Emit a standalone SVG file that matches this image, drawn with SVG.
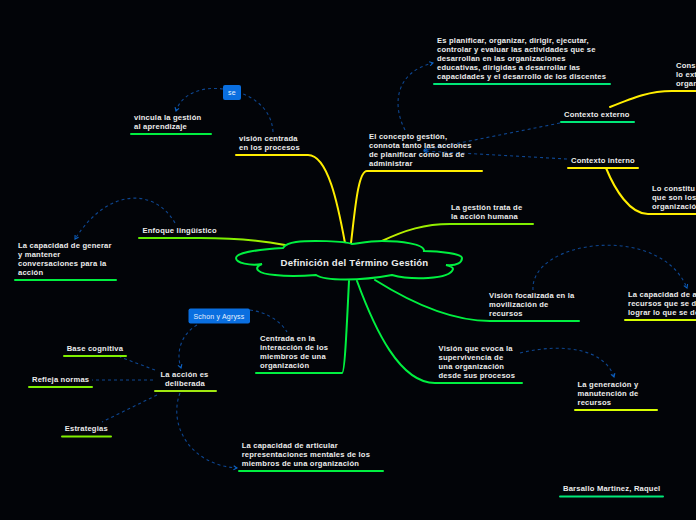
<svg xmlns="http://www.w3.org/2000/svg" width="696" height="520" viewBox="0 0 696 520">
<style>
text{font-family:"Liberation Sans",Arial,sans-serif;font-weight:700;font-size:7.6px;letter-spacing:.2px;fill:#ececec}
.b{fill:none;stroke-width:2;stroke-linecap:round;stroke-linejoin:round}
.d{fill:none;stroke:#0e4690;stroke-width:1.1;stroke-dasharray:3 3}
.y{stroke:#ffee00}.g{stroke:#00f040}.l{stroke:#80f000}.t{stroke:#00e878}.a{stroke:#d8ff00}
.box{fill:#0a6fe0}
.bt{font-weight:400;fill:#e8f2ff;text-anchor:middle;font-size:7px}
</style>
<defs>
<marker id="ah" viewBox="0 0 8 8" refX="6" refY="4" markerWidth="5" markerHeight="5" orient="auto"><path d="M1 1L6 4L1 7" fill="none" stroke="#0c62c4" stroke-width="1.6"/></marker>
<linearGradient id="gr1" gradientUnits="userSpaceOnUse" x1="200" y1="238" x2="290" y2="245"><stop offset="0" stop-color="#60f000"/><stop offset="1" stop-color="#c0f000"/></linearGradient>
<linearGradient id="gr2" gradientUnits="userSpaceOnUse" x1="382" y1="241" x2="450" y2="224"><stop offset="0" stop-color="#d0ee00"/><stop offset="1" stop-color="#80f000"/></linearGradient>
</defs>
<rect width="696" height="520" fill="#020408"/>
<g id="connectors">
<path class="b y" d="M345 243C338 205 328 155 308 155H236"/>
<path class="b y" d="M351 243C355 210 358 171 367 171H482"/>
<path class="b" stroke="url(#gr2)" d="M382 241C405 230 425 224 450 224H533"/>
<path class="b" stroke="url(#gr1)" d="M285 245C260 240 235 238 200 238H139"/>
<path class="b g" d="M349 281C347 320 345 373 342 373H256"/>
<path class="b g" d="M375 280C410 302 450 321 490 321H579"/>
<path class="b g" d="M357 281C375 330 400 383 435 383H522"/>
<path class="b y" d="M610 107C635 97 650 91 672 91H696"/>
<path class="b y" d="M606 168C615 190 630 214 648 214H696"/>
<path class="d" marker-end="url(#ah)" d="M405 130C392 105 395 72 433 63"/>
<path class="d" marker-end="url(#ah)" d="M560 123L424 150"/>
<path class="d" marker-end="url(#ah)" d="M567 159L424 151"/>
<path class="d" d="M273 132C272 112 258 100 243 94"/>
<path class="d" marker-end="url(#ah)" d="M223 89C200 86 181 95 176 111"/>
<path class="d" marker-end="url(#ah)" d="M175 223C155 188 108 187 75 239"/>
<path class="d" d="M250 310C265 312 280 320 287 332"/>
<path class="d" marker-end="url(#ah)" d="M197 325C183 333 175 350 181 368"/>
<path class="d" d="M155 370L120 357"/>
<path class="d" d="M153 380H92"/>
<path class="d" d="M157 395L102 422"/>
<path class="d" marker-end="url(#ah)" d="M180 393C168 425 190 465 237 468"/>
<path class="d" marker-end="url(#ah)" d="M533 290C530 240 660 222 687 288"/>
<path class="d" marker-end="url(#ah)" d="M520 353C565 342 605 350 614 377"/>
</g>
<g id="center"><path d="M352 244C345 241 310 240 296 242C288 243 285 245 283 248C265 249 236 252 236 258C236 263 250 266 262 264C252 268 258 274 275 275C290 277 305 276 316 275C325 281 360 281 392 275C410 280 450 280 453 269C453 267 450 266 446 265C458 266 462 262 462 258C462 254 440 251 424 251C425 244 400 241 382 241C370 241 360 243 352 244Z" fill="#020408" stroke="#00f040" stroke-width="2"/><text x="354.500" y="266" text-anchor="middle" style="font-size:9.6px;letter-spacing:.2px">Definición del Término Gestión</text></g>
<g id="n1"><text x="437" y="43">Es  planificar, organizar, dirigir, ejecutar,</text><text x="437" y="52">controlar y evaluar las actividades que se</text><text x="437" y="61">desarrollan en las organizaciones</text><text x="437" y="70">educativas, dirigidas a desarrollar las</text><text x="437" y="79">capacidades y el desarrollo de los discentes</text><path class="b t" d="M434 84H610"/></g>
<g id="n2"><text x="369" y="139">El concepto gestión,</text><text x="369" y="148">connota tanto las acciones</text><text x="369" y="157">de planificar como las de</text><text x="369" y="166">administrar</text></g>
<g id="n3"><text x="451" y="210">La gestión trata de</text><text x="451" y="219">la acción humana</text></g>
<g id="n4"><text x="564" y="117">Contexto externo</text><path class="b t" d="M561 122H634"/></g>
<g id="n5"><text x="571" y="163">Contexto interno</text><path class="b y" d="M568 168H638"/></g>
<g id="n6"><text x="676" y="68">Cons</text><text x="676" y="77">lo ext</text><text x="676" y="86">organ</text></g>
<g id="n7"><text x="652" y="191">Lo constitu</text><text x="652" y="200">que son los</text><text x="652" y="209">organizació</text></g>
<g id="n8"><text x="628" y="297">La capacidad de a</text><text x="628" y="306">recursos que se d</text><text x="628" y="315">lograr lo que se de</text><path class="b a" d="M625 320H696"/></g>
<g id="n9"><text x="489" y="298">Visión focalizada en la</text><text x="489" y="307">movilización de</text><text x="489" y="316">recursos</text></g>
<g id="n10"><text x="438.500" y="351">Visión que evoca la</text><text x="438.500" y="360">supervivencia de</text><text x="438.500" y="369">una organización</text><text x="438.500" y="378">desde sus procesos</text></g>
<g id="n11"><text x="577.500" y="387">La generación y</text><text x="577.500" y="396">manutención de</text><text x="577.500" y="405">recursos</text><path class="b a" d="M575 410H657"/></g>
<g id="n12"><text x="563" y="491">Barsallo Martinez, Raquel</text><path class="b t" d="M560 496.500H663"/></g>
<g id="n13"><text x="239" y="141">visión centrada</text><text x="239" y="150">en los procesos</text></g>
<g id="n14"><text x="134" y="120">vincula la gestión</text><text x="134" y="129">al aprendizaje</text><path class="b g" d="M131 134H211"/></g>
<g id="n15"><rect class="box" x="223" y="85" width="18" height="15" rx="2"/><text class="bt" x="232" y="95">se</text></g>
<g id="n16"><text x="142.500" y="233">Enfoque  lingüístico</text></g>
<g id="n17"><text x="18" y="248">La capacidad de generar</text><text x="18" y="257">y mantener</text><text x="18" y="266">conversaciones para la</text><text x="18" y="275">acción</text><path class="b g" d="M15 280H116"/></g>
<g id="n18"><rect class="box" x="188.500" y="308.500" width="61.500" height="15" rx="2"/><text class="bt" x="219" y="318.500">Schon y Agryss</text></g>
<g id="n19"><text x="260" y="341">Centrada en la</text><text x="260" y="350">interacción de los</text><text x="260" y="359">miembros de una</text><text x="260" y="368">organización</text></g>
<g id="n20"><text x="66.700" y="351">Base cognitiva</text><path class="b l" d="M64 356H126"/></g>
<g id="n21"><text x="32" y="382">Refleja normas</text><path class="b l" d="M29 387H92"/></g>
<g id="n22"><text x="64.700" y="431">Estrategias</text><path class="b l" d="M62 436.500H111"/></g>
<g id="n23"><text x="184.500" y="377" text-anchor="middle">La acción es</text><text x="185" y="386" text-anchor="middle">deliberada</text><path class="b" stroke="#a0e810" d="M155 391H216"/></g>
<g id="n24"><text x="241.700" y="448">La capacidad de articular</text><text x="241.700" y="457">representaciones mentales de los</text><text x="241.700" y="466">miembros de una organización</text><path class="b g" d="M239 471H383"/></g>
</svg>
